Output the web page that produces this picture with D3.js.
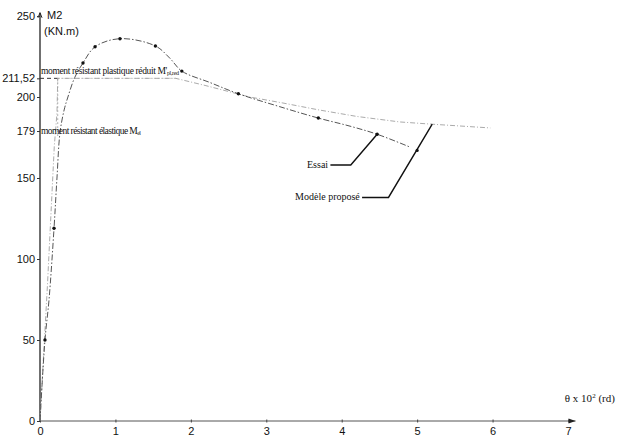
<!DOCTYPE html>
<html>
<head>
<meta charset="utf-8">
<script src="https://cdn.jsdelivr.net/npm/d3@7"></script>
<style>
  body { margin: 0; background: #fff; }
  svg { display: block; }
  .tick-lbl { font-family: "Liberation Sans", Arial, sans-serif; font-size: 11px; fill: #111; }
  .note { font-family: "Liberation Serif", "Times New Roman", serif; font-size: 9.5px; fill: #111; }
</style>
</head>
<body>
<svg id="chart" width="619" height="442"></svg>
<script>
// essai (test) curve
var essaiTheta = [0, 0.066, 0.12, 0.186, 0.225, 0.265, 0.32, 0.37, 0.46, 0.57, 0.73, 1.06, 1.53, 1.72, 1.88, 2.25, 2.63, 3.18, 3.69, 4.11, 4.47, 4.91];
var essaiM     = [0, 50, 75, 119, 150, 178, 192, 200, 212, 221, 231, 236, 231.5, 224, 216, 209, 202, 194, 187, 182, 177, 169];
var essaiDots  = [1, 3, 9, 10, 11, 12, 14, 16, 18, 20];

// modele propose (model) curve
var modeleTheta = [0, 0.1, 0.19, 0.225, 0.235, 1.0, 1.8, 2.2, 2.78, 3.22, 3.7, 4.2, 4.77, 5.17, 5.97];
var modeleM     = [0, 85, 170, 190, 211.52, 211.52, 211.52, 207, 200, 196.3, 192, 188, 184.6, 183.3, 180.9];

var xTicks = [0, 1, 2, 3, 4, 5, 6, 7];
var yTicks = [0, 50, 100, 150, 179, 200, 211.52, 250];
var yTickLabels = ["0", "50", "100", "150", "179", "200", "211,52", "250"];

var svg = d3.select("#chart");

var x = d3.scaleLinear().domain([0, 7]).range([40, 568]);
var y = d3.scaleLinear().domain([0, 250]).range([421, 16]);

// axes
var axes = svg.append("g");
axes.append("line").attr("x1", x(0)).attr("x2", x(7.1)).attr("y1", y(0)).attr("y2", y(0))
    .attr("stroke", "#555").attr("stroke-width", 1);
axes.append("line").attr("x1", x(0)).attr("x2", x(0)).attr("y1", y(0)).attr("y2", y(252))
    .attr("stroke", "#222").attr("stroke-width", 1.3);
// arrow heads
axes.append("path")
    .attr("d", "M" + (x(7.1) - 7) + "," + (y(0) - 2.5) + "L" + x(7.1) + "," + y(0) + "L" + (x(7.1) - 7) + "," + (y(0) + 2.5) + "Z")
    .attr("fill", "#222");
axes.append("path")
    .attr("d", "M" + (x(0) - 2) + "," + (y(252) + 5) + "L" + x(0) + "," + y(252) + "L" + (x(0) + 2) + "," + (y(252) + 5))
    .attr("fill", "none").attr("stroke", "#222");

var xAxis = d3.axisBottom(x).tickValues(xTicks).tickSize(3).tickFormat(d3.format("d"));
var gx = svg.append("g").attr("transform", "translate(0," + y(0) + ")").call(xAxis);
gx.select(".domain").remove();
gx.selectAll(".tick line").attr("stroke", "#444").attr("y1", -1.5).attr("y2", 1.5);
gx.selectAll(".tick text").attr("class", "tick-lbl").attr("dy", "0.9em").attr("y", 4);

var yAxis = d3.axisLeft(y).tickValues(yTicks).tickSize(3)
    .tickFormat(function (d, i) { return yTickLabels[i]; });
var gy = svg.append("g").attr("transform", "translate(" + x(0) + ",0)").call(yAxis);
gy.select(".domain").remove();
gy.selectAll(".tick line").attr("stroke", "#333");
gy.selectAll(".tick text").attr("class", "tick-lbl").attr("x", -5);

// axis titles
svg.append("text").attr("class", "tick-lbl").attr("x", x(0) + 7).attr("y", y(250) + 3).text("M2");
svg.append("text").attr("class", "tick-lbl").attr("x", x(0) + 4).attr("y", y(250) + 19).text("(KN.m)");
var xt = svg.append("text").attr("class", "note").style("font-size", "11px")
    .attr("x", x(7.29)).attr("y", y(12)).attr("text-anchor", "middle");
xt.append("tspan").text("θ x 10");
xt.append("tspan").attr("dy", -4).style("font-size", "7px").text("2");
xt.append("tspan").attr("dy", 4).text(" (rd)");

// reference line 211,52 and drop line
svg.append("line").attr("x1", x(0)).attr("x2", x(0.235)).attr("y1", y(211.52)).attr("y2", y(211.52))
    .attr("stroke", "#333").attr("stroke-dasharray", "4,3");
svg.append("line").attr("x1", x(0.235)).attr("x2", x(1.8)).attr("y1", y(211.52)).attr("y2", y(211.52))
    .attr("stroke", "#c4c4c4").attr("stroke-width", 0.8).attr("stroke-dasharray", "2,2");
svg.append("line").attr("x1", x(0.235)).attr("x2", x(0.235)).attr("y1", y(211.52)).attr("y2", y(176))
    .attr("stroke", "#888").attr("stroke-width", 0.8).attr("stroke-dasharray", "1.5,2.5");

// curves
var line = d3.line().x(function (d) { return x(d[0]); }).y(function (d) { return y(d[1]); });

var modeleData = modeleTheta.map(function (t, i) { return [t, modeleM[i]]; });
var essaiData = essaiTheta.map(function (t, i) { return [t, essaiM[i]]; });

svg.append("path").datum(modeleData).attr("d", line.curve(d3.curveLinear))
    .attr("fill", "none").attr("stroke", "#a0a0a0").attr("stroke-width", 0.9)
    .attr("stroke-dasharray", "5,2,1,2");

svg.append("path").datum(essaiData).attr("d", line.curve(d3.curveCatmullRom.alpha(0.5)))
    .attr("fill", "none").attr("stroke", "#555").attr("stroke-width", 1)
    .attr("stroke-dasharray", "6,2,1.5,2");

svg.selectAll(".edot").data(essaiDots).enter().append("circle")
    .attr("cx", function (i) { return x(essaiTheta[i]); })
    .attr("cy", function (i) { return y(essaiM[i]); })
    .attr("r", 1.7).attr("fill", "#111");

// annotations
svg.append("text").attr("class", "note").attr("x", x(0) + 1).attr("y", y(211.52) - 4)
    .attr("textLength", 138).text("moment résistant plastique réduit M'")
    .append("tspan").attr("dy", 1).style("font-size", "6px").text("pl,red");
svg.append("text").attr("class", "note").attr("x", x(0) + 1).attr("y", y(179) + 3)
    .attr("textLength", 100).text("moment résistant élastique M")
    .append("tspan").attr("dy", 1).style("font-size", "6px").text("el");

var essaiLabel = [[3.85, 158], [4.12, 158], [4.47, 177]];
var modeleLabel = [[4.27, 138], [4.62, 138], [5.2, 183.3]];
var lead = d3.line().x(function (d) { return x(d[0]); }).y(function (d) { return y(d[1]); });

svg.append("path").datum(essaiLabel).attr("d", lead)
    .attr("fill", "none").attr("stroke", "#111").attr("stroke-width", 1.4);
svg.append("path").datum(modeleLabel).attr("d", lead)
    .attr("fill", "none").attr("stroke", "#111").attr("stroke-width", 1.4);
svg.append("circle").attr("cx", x(5.0)).attr("cy", y(167)).attr("r", 1.6).attr("fill", "#111");

svg.append("text").attr("class", "note").style("font-size", "10px")
    .attr("x", x(3.82)).attr("y", y(158) + 3).attr("text-anchor", "end").text("Essai");
svg.append("text").attr("class", "note").style("font-size", "10px")
    .attr("x", x(4.24)).attr("y", y(138) + 3).attr("text-anchor", "end").text("Modèle proposé");
</script>
</body>
</html>
